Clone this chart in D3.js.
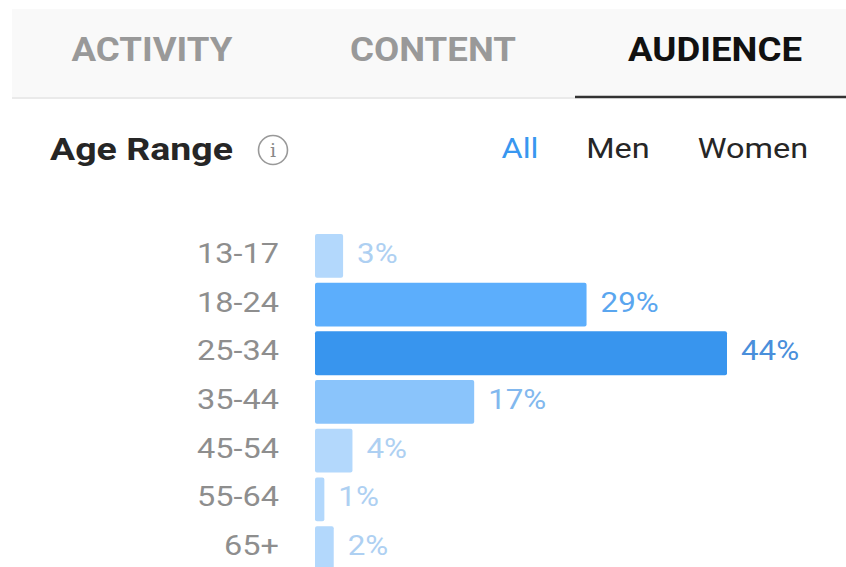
<!DOCTYPE html>
<html>
<head>
<meta charset="utf-8">
<script src="https://cdn.jsdelivr.net/npm/d3@7"></script>
<style>
  body { margin: 0; background: #fff; }
  text { font-family: Roboto, "Noto Sans", sans-serif; }
</style>
</head>
<body>
<div id="container"></div>
<script>
// age range data (All)
const ageGroups = ["13-17", "18-24", "25-34", "35-44", "45-54", "55-64", "65+"]
const shares = [3, 29, 44, 17, 4, 1, 2]
const tabs = ["ACTIVITY", "CONTENT", "AUDIENCE"]
const filters = ["All", "Men", "Women"]

const data = ageGroups.map((g, i) => ({ group: g, value: shares[i] }))

const W = 846, H = 567
const stretch = 1.16 // the screenshot is a bit wider than normal text

const svg = d3.select("#container")
  .append("svg")
  .attr("width", W)
  .attr("height", H)

// wide text helper: draw at (x,y) then stretch horizontally
function wideText(g, x, y, str, anchor, k) {
  return g.append("text")
    .attr("transform", `translate(${x},${y}) scale(${k || stretch},1)`)
    .attr("text-anchor", anchor || "start")
    .text(str)
}

/* tab header */
const header = svg.append("g")
header.append("rect")
  .attr("x", 12).attr("y", 9)
  .attr("width", W - 12).attr("height", 88)
  .attr("fill", "#f9f9f9")
header.append("line")
  .attr("x1", 12).attr("x2", 575)
  .attr("y1", 98).attr("y2", 98)
  .attr("stroke", "#e3e3e3").attr("stroke-width", 1.5)
header.append("line")
  .attr("x1", 575).attr("x2", W)
  .attr("y1", 97).attr("y2", 97)
  .attr("stroke", "#333").attr("stroke-width", 2.5)

const tabX = [152, 433, 715]
tabs.forEach((t, i) => {
  wideText(header, tabX[i], 61, t, "middle", 1.11)
    .style("font-size", "33px")
    .style("font-weight", 700)
    .attr("fill", i == 2 ? "#111" : "#999")
})

/* title row */
wideText(svg, 50, 160, "Age Range", "start", 1.21)
  .style("font-size", "31px")
  .style("font-weight", 700)
  .attr("fill", "#262626")

const info = svg.append("g").attr("transform", "translate(273,150)")
info.append("circle")
  .attr("r", 14.5)
  .attr("fill", "none")
  .attr("stroke", "#999")
  .attr("stroke-width", 1.6)
info.append("text")
  .attr("text-anchor", "middle")
  .attr("y", 7)
  .style("font-family", "'DejaVu Serif', serif")
  .style("font-size", "19px")
  .attr("fill", "#888")
  .text("i")

const filterX = [520, 618, 753]
filters.forEach((f, i) => {
  wideText(svg, filterX[i], 158, f, "middle")
    .style("font-size", "28px")
    .attr("fill", i == 0 ? "#3897f0" : "#262626")
})

/* bars */
const x0 = 315
const xScale = d3.scaleLinear()
  .domain([0, 44])
  .range([0, 412])

const yScale = d3.scaleBand()
  .domain(ageGroups)
  .range([231.5, 572.4])
  .paddingInner(0.1)
  .paddingOuter(0.05)

// bigger share -> stronger blue
const colorScale = d3.scaleThreshold()
  .domain([10, 20, 40])
  .range(["#b3d8fc", "#8ac4fb", "#5caefc", "#3895ee"])
const labelColor = d3.scaleThreshold()
  .domain([10, 20, 40])
  .range(["#aed0f2", "#82b8ee", "#5aa6ef", "#4a8fdb"])

const chart = svg.append("g").attr("transform", `translate(${x0},0)`)

chart.selectAll("rect")
  .data(data)
  .join("rect")
  .attr("x", 0)
  .attr("y", d => yScale(d.group))
  .attr("width", d => xScale(d.value))
  .attr("height", yScale.bandwidth())
  .attr("rx", 2)
  .attr("fill", d => colorScale(d.value))

chart.selectAll(".val")
  .data(data)
  .join("text")
  .attr("class", "val")
  .attr("transform", d => `translate(${xScale(d.value) + 14},${yScale(d.group) + yScale.bandwidth() / 2 + 7}) scale(${stretch},1)`)
  .style("font-size", "27px")
  .attr("fill", d => labelColor(d.value))
  .text(d => d.value + "%")

// age labels via axis
const yAxis = chart.append("g")
  .call(d3.axisLeft(yScale).tickSize(0).tickPadding(36))
yAxis.select(".domain").remove()
yAxis.selectAll("text")
  .style("font-family", "Roboto, sans-serif")
  .style("font-size", "28px")
  .attr("fill", "#8e8e8e")
  .attr("dy", "0.25em")
  .attr("transform", function () {
    const xx = +d3.select(this).attr("x")
    return `translate(${xx},0) scale(${stretch},1)`
  })
  .attr("x", 0)
</script>
</body>
</html>
